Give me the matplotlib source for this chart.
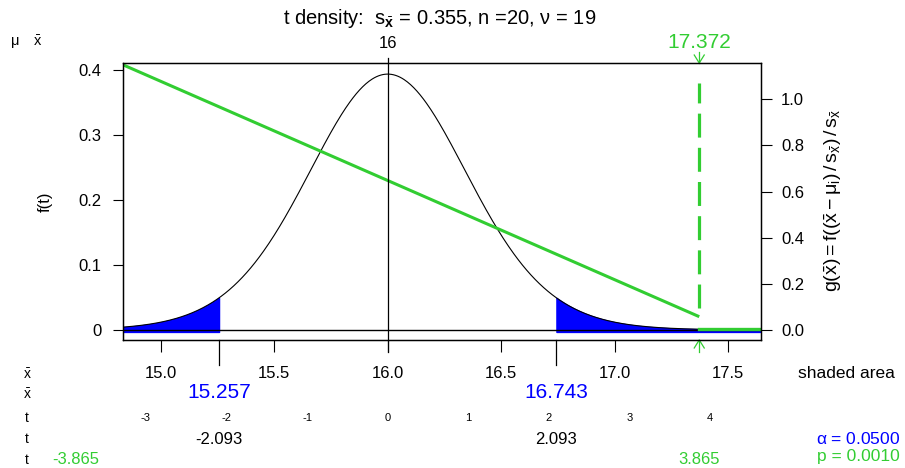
import numpy as np
import matplotlib
matplotlib.use('Agg')
import matplotlib.pyplot as plt
from matplotlib import transforms
from math import lgamma, pi

plt.rcParams['font.family'] = ['Liberation Sans', 'DejaVu Sans']
plt.rcParams['mathtext.fontset'] = 'custom'
plt.rcParams['mathtext.rm'] = 'Liberation Sans'
plt.rcParams['mathtext.it'] = 'Liberation Sans:italic'
plt.rcParams['mathtext.bf'] = 'Liberation Sans:bold'
plt.rcParams['mathtext.default'] = 'regular'

# t distribution shown in the chart
mu = 16.0
se = 0.355
n = 20
df = 19
xlim = (14.834, 17.644)
ylim = (-0.0154, 0.4108)

xbar_ticks = [15.0, 15.5, 16.0, 16.5, 17.0, 17.5]
xbar_labels = ['15.0', '15.5', '16.0', '16.5', '17.0', '17.5']
t_ticks = [-3, -2, -1, 0, 1, 2, 3, 4]
f_ticks = [0, 0.1, 0.2, 0.3, 0.4]
f_labels = ['0', '0.1', '0.2', '0.3', '0.4']
g_ticks = [0.0, 0.2, 0.4, 0.6, 0.8, 1.0]

crit_x = [15.257, 16.743]
crit_t = [-2.093, 2.093]
obs_x = 17.372
obs_t = [-3.865, 3.865]
alpha = 0.05
pval = 0.001

# green outline
green_line_x = [14.834, 17.372]
green_line_y = [0.408, 0.0205]
green_dash_y = [0.034, 0.38]

blue = '#0000FF'
green = '#32CD32'


# density of t with df degrees of freedom
def t_pdf(t, nu):
    c = np.exp(lgamma((nu + 1) / 2) - lgamma(nu / 2)) / np.sqrt(nu * pi)
    return c * (1 + t ** 2 / nu) ** (-(nu + 1) / 2)


W, H = 905, 468
fig = plt.figure(figsize=(W / 100, H / 100), dpi=100)
ax = fig.add_axes([123 / W, (H - 340) / H, 638 / W, 277 / H])


def fy(py):
    return 1 - py / H


xy = transforms.blended_transform_factory(ax.transData, fig.transFigure)

x = np.linspace(xlim[0], xlim[1], 600)
ft = t_pdf((x - mu) / se, df)

# shaded tails
left = x <= crit_x[0]
right = x >= crit_x[1]
xl = np.append(x[left], crit_x[0])
xr = np.insert(x[right], 0, crit_x[1])
ax.fill_between(xl, -0.003, t_pdf((xl - mu) / se, df), color=blue, lw=1)
ax.fill_between(xr, -0.003, t_pdf((xr - mu) / se, df), color=blue, lw=1)

ax.plot(x, ft, color='black', lw=0.8)
ax.axhline(0, color='black', lw=1)

# green p-value lines
ax.plot(green_line_x, green_line_y, color=green, lw=2.2, solid_capstyle='butt')
ax.plot([obs_x, xlim[1]], [0.001, 0.001], color=green, lw=2.4)
ax.plot([obs_x, obs_x], green_dash_y, color=green, lw=2.3, dashes=(7.5, 3.2))

ax.set_xlim(xlim)
ax.set_ylim(ylim)
ax.set_xticks(xbar_ticks)
ax.set_xticklabels([])
ax.tick_params(axis='x', length=8.5, width=0.8)
ax.set_yticks(f_ticks)
ax.set_yticklabels(f_labels, fontsize=12)
ax.tick_params(axis='y', length=7.5, width=0.8, pad=8)
for s in ax.spines.values():
    s.set_linewidth(1)

ax2 = ax.twinx()
ax2.set_ylim(ylim[0] / se, ylim[1] / se)
ax2.set_yticks(g_ticks)
ax2.set_yticklabels(['%.1f' % g for g in g_ticks], fontsize=12)
ax2.tick_params(axis='y', length=8, width=0.8, pad=6.5)

# center line and long ticks
ax.plot([mu, mu], [fy(58), fy(352)], color='black', lw=0.9, transform=xy, clip_on=False)
for c in crit_x:
    ax.plot([c, c], [fy(340), fy(365)], color='black', lw=0.9, transform=xy, clip_on=False)

# arrows at observed value
dx = 5 / 227
ax.plot([obs_x, obs_x], [fy(52), fy(63)], color=green, lw=0.9, transform=xy, clip_on=False)
ax.plot([obs_x - dx, obs_x, obs_x + dx], [fy(55), fy(63), fy(55)], color=green, lw=0.9,
        transform=xy, clip_on=False)
ax.plot([obs_x, obs_x], [fy(340), fy(352)], color=green, lw=0.9, transform=xy, clip_on=False)
ax.plot([obs_x - dx, obs_x, obs_x + dx], [fy(348), fy(340), fy(348)], color=green, lw=0.9,
        transform=xy, clip_on=False)

# titles and labels
fig.text(440 / W, fy(18), r't density:  $s_{\bar{\mathbf{x}}}$ = 0.355, n =20, $\nu$ = 19',
         ha='center', va='center', fontsize=14.5)
fig.text(15 / W, fy(43), r'$\mu$', ha='center', va='center', fontsize=10.5)
fig.text(38 / W, fy(42), r'$\bar{x}$', ha='center', va='center', fontsize=10.5)
ax.text(mu, fy(44), '16', transform=xy, ha='center', va='center', fontsize=12)
ax.text(obs_x, fy(42), '%.3f' % obs_x, transform=xy, ha='center', va='center', fontsize=15,
        color=green)

fig.text(45 / W, fy(202), 'f(t)', rotation=90, ha='center', va='center', fontsize=12)
fig.text(833 / W, fy(201), r'$g(\bar{x}) = f((\bar{x} - \mu_i)\,/\,s_{\bar{x}})\,/\,s_{\bar{x}}$',
         rotation=90, ha='center', va='center', fontsize=14)

# rows under the axis
row_y = [375, 395, 418, 439, 460]
row_names = [r'$\bar{x}$', r'$\bar{x}$', 't', 't', 't']
for ry, nm in zip(row_y, row_names):
    fig.text(27 / W, fy(ry), nm, ha='center', va='center', fontsize=10)

for v, lab in zip(xbar_ticks, xbar_labels):
    ax.text(v, fy(374), lab, transform=xy, ha='center', va='center', fontsize=12)
for c in crit_x:
    ax.text(c, fy(393), '%.3f' % c, transform=xy, ha='center', va='center', fontsize=15,
            color=blue)
for t in t_ticks:
    ax.text(mu + t * se, fy(418), str(t), transform=xy, ha='center', va='center', fontsize=8)
for c in crit_t:
    ax.text(mu + c * se, fy(439), '%.3f' % c, transform=xy, ha='center', va='center',
            fontsize=12)
for c in obs_t:
    ax.text(mu + c * se, fy(460), '%.3f' % c, transform=xy, ha='center', va='center',
            fontsize=12, color=green)

fig.text(895 / W, fy(374), 'shaded area', ha='right', va='center', fontsize=12.5)
fig.text(900 / W, fy(439), r'$\alpha$ = %.4f' % alpha, ha='right', va='center', fontsize=12.5,
         color=blue)
fig.text(900 / W, fy(456), 'p = %.4f' % pval, ha='right', va='center', fontsize=12.5,
         color=green)

fig.savefig('out.png', dpi=100)
